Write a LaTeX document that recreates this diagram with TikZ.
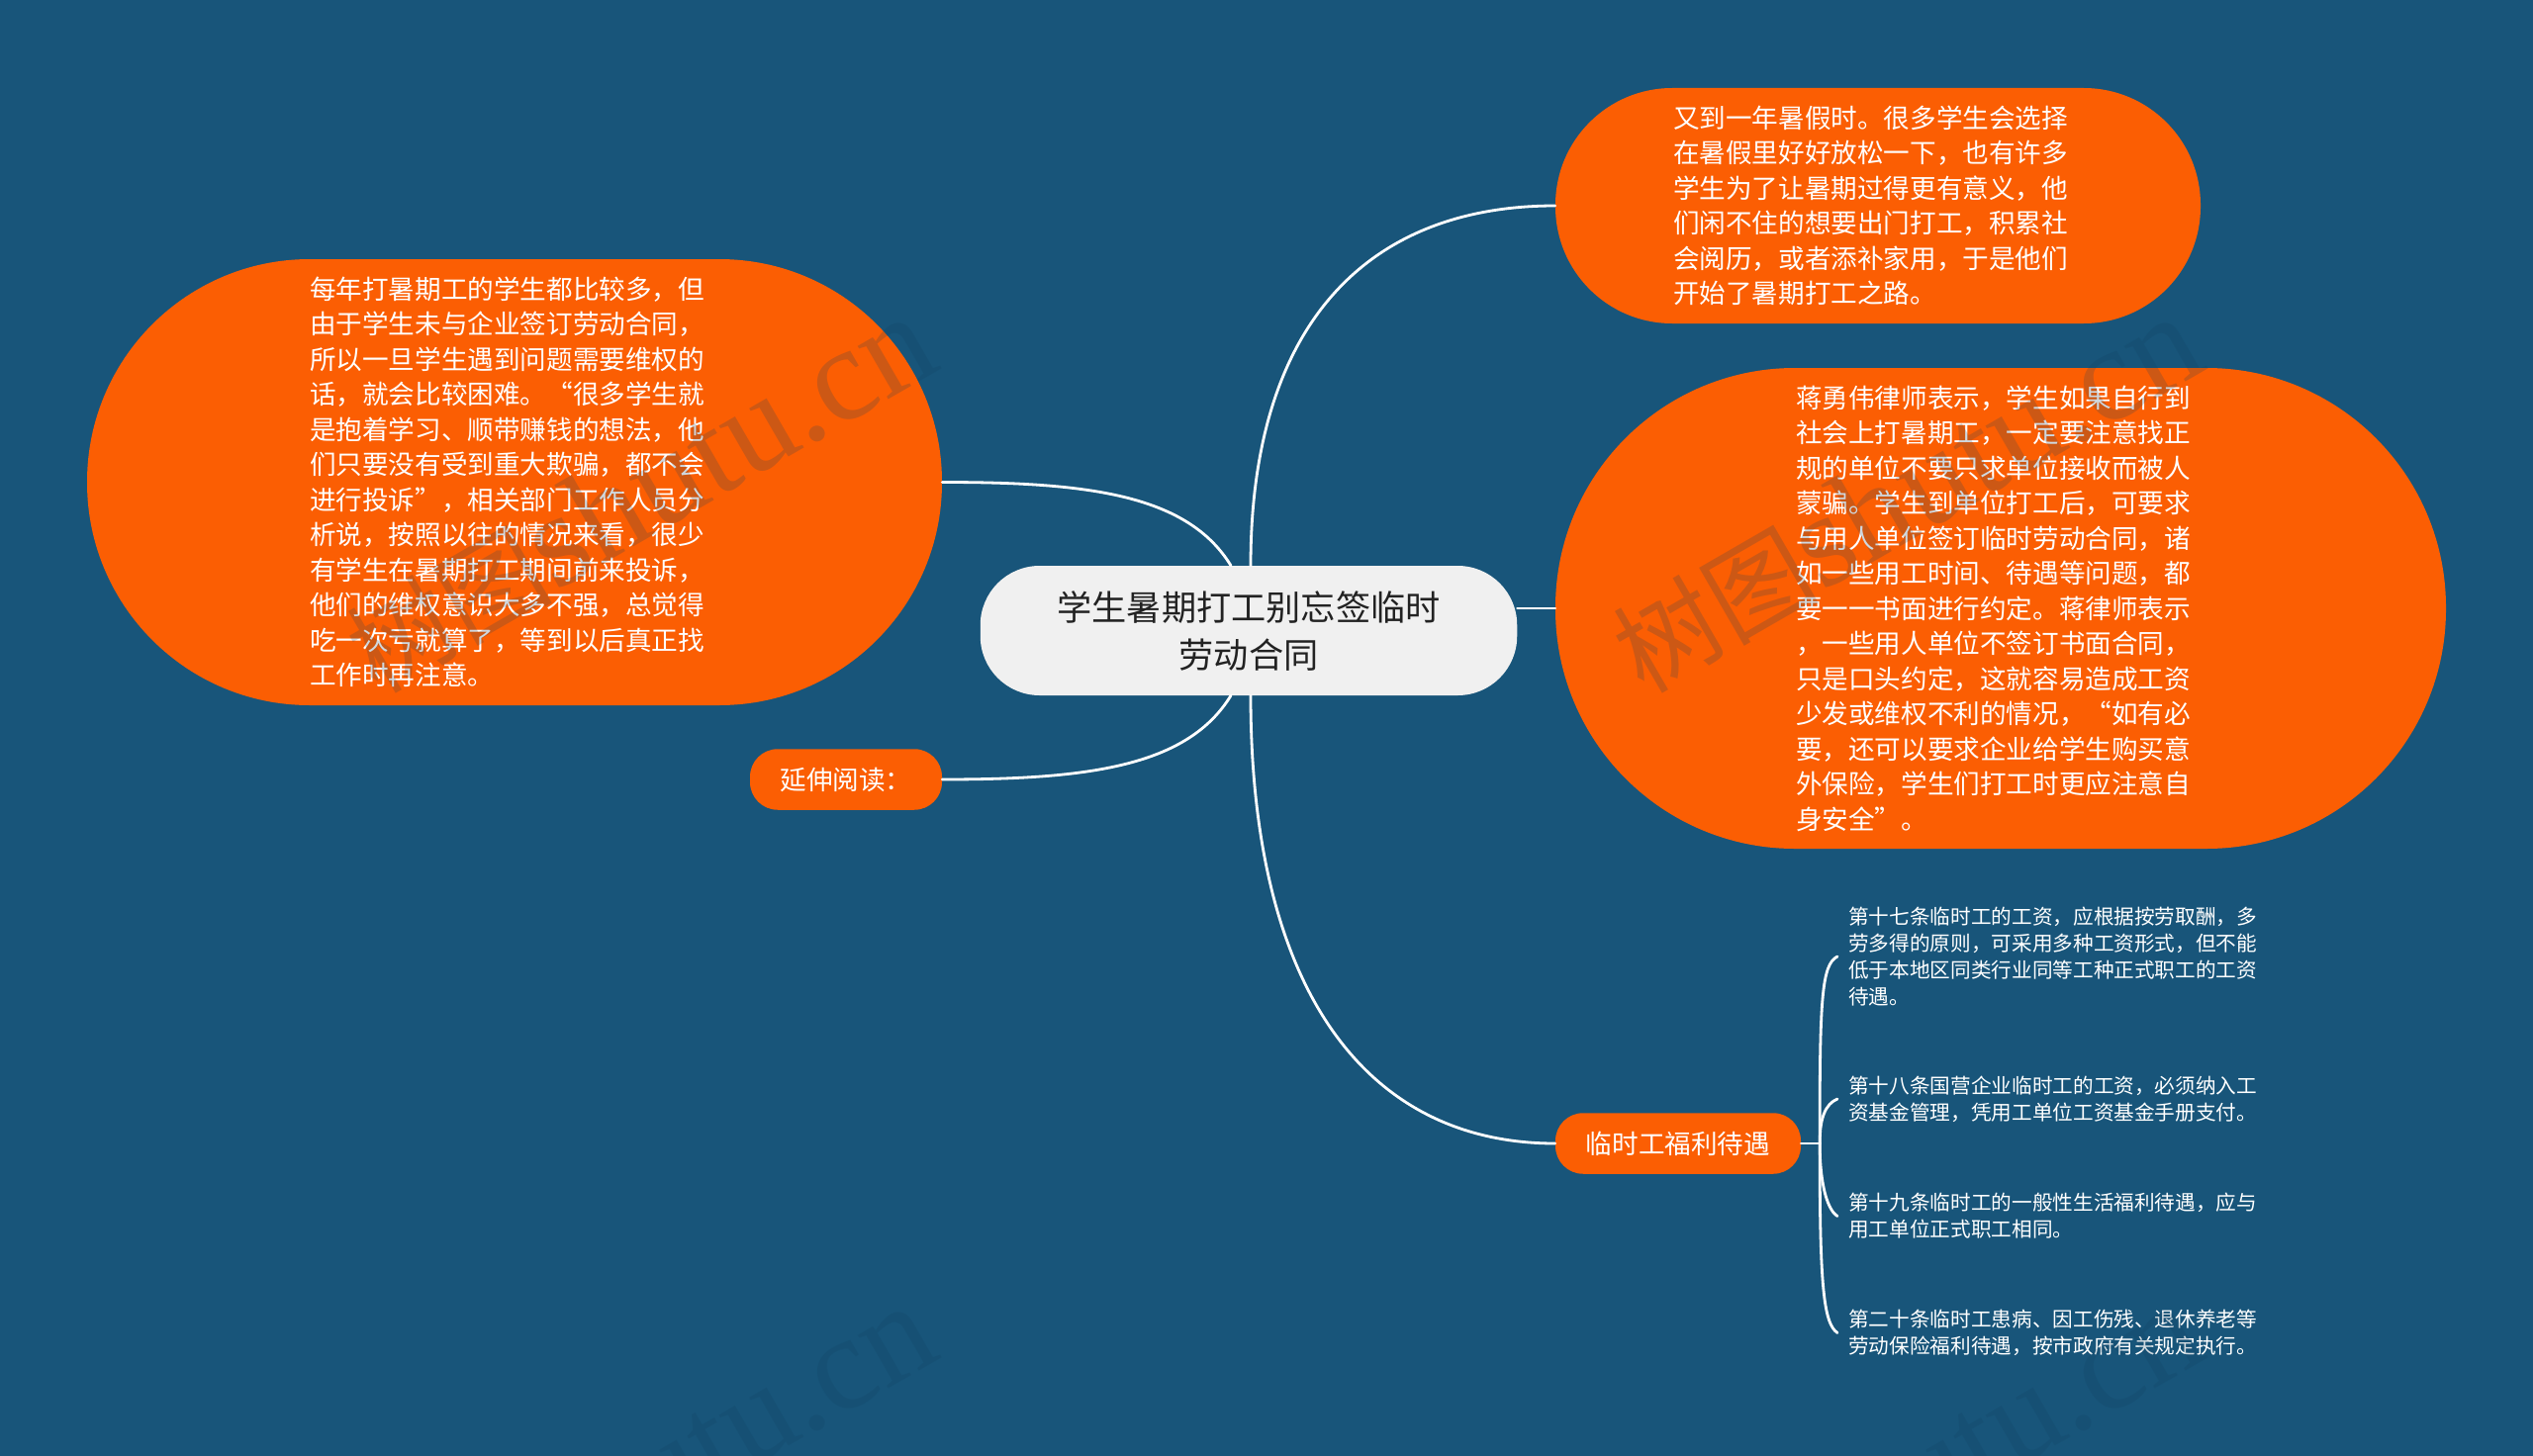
\documentclass[tikz,border=0pt]{standalone}
\usepackage{fontspec}
\setmainfont{Noto Sans CJK SC}
\newfontfamily\wmlatin{Liberation Serif}
\usetikzlibrary{calc}
\definecolor{bgblue}{HTML}{18557A}
\definecolor{bubble}{HTML}{FB5E03}
\definecolor{rootfill}{HTML}{F0F0F0}
\definecolor{roottext}{HTML}{222222}
\definecolor{markcol}{HTML}{10405F}
\newcommand{\txtlines}[2]{\kern#1pt\raisebox{-3pt}[\height][\depth]{\begin{tabular}{@{}l@{}}#2\end{tabular}}}
\newcommand{\wmtext}{{\fontsize{104}{120}\selectfont 树图}{\wmlatin\fontsize{135}{140}\selectfont shutu.cn}}
\tikzset{
  x=1pt,y=-1pt,
  bubblebox/.style={fill=bubble,draw=none,inner sep=0pt,text=white,align=center},
  bigtext/.style={font=\fontsize{26.6}{35.5}\selectfont},
  rootbox/.style={fill=rootfill,draw=none,inner sep=0pt,text=roottext,align=center,font=\fontsize{35.2}{48}\selectfont},
  leafbox/.style={inner sep=0pt,text=white,align=left,font=\fontsize{20.65}{26.8}\selectfont,inner xsep=11pt},
  link/.style={draw=white,line width=2.8pt,line cap=round},
  wmark/.style={text=markcol,opacity=.2,rotate=30,anchor=base west,inner sep=0pt}
}
\begin{document}
\begin{tikzpicture}
\fill[bgblue] (0,0) rectangle (2560,1472);
\useasboundingbox (0,0) rectangle (2560,1472);

\node[rootbox,rounded corners=60pt,minimum width=542.5pt,minimum height=131pt] (root) at (1262,637.5) {学生暑期打工别忘签临时\\劳动合同};

\node[bubblebox,bigtext,rounded corners=225pt,minimum width=864pt,minimum height=451pt] (left) at (520,487.5) {\txtlines{-15}{每年打暑期工的学生都比较多，但\\由于学生未与企业签订劳动合同，\\所以一旦学生遇到问题需要维权的\\话，就会比较困难。“很多学生就\\是抱着学习、顺带赚钱的想法，他\\们只要没有受到重大欺骗，都不会\\进行投诉”，相关部门工作人员分\\析说，按照以往的情况来看，很少\\有学生在暑期打工期间前来投诉，\\他们的维权意识大多不强，总觉得\\吃一次亏就算了，等到以后真正找\\工作时再注意。}};

\node[bubblebox,bigtext,rounded corners=28pt,minimum width=194pt,minimum height=61.5pt] (read) at (855,788) {延伸阅读：};

\node[bubblebox,bigtext,rounded corners=118pt,minimum width=652pt,minimum height=238pt] (top) at (1898,208) {\txtlines{-15}{又到一年暑假时。很多学生会选择\\在暑假里好好放松一下，也有许多\\学生为了让暑期过得更有意义，他\\们闲不住的想要出门打工，积累社\\会阅历，或者添补家用，于是他们\\开始了暑期打工之路。}};

\node[bubblebox,bigtext,rounded corners=242pt,minimum width=900pt,minimum height=486pt] (mid) at (2022,615) {\txtlines{-15}{蒋勇伟律师表示，学生如果自行到\\社会上打暑期工，一定要注意找正\\规的单位不要只求单位接收而被人\\蒙骗。学生到单位打工后，可要求\\与用人单位签订临时劳动合同，诸\\如一些用工时间、待遇等问题，都\\要一一书面进行约定。蒋律师表示\\，一些用人单位不签订书面合同，\\只是口头约定，这就容易造成工资\\少发或维权不利的情况，“如有必\\要，还可以要求企业给学生购买意\\外保险，学生们打工时更应注意自\\身安全”。}};

\node[bubblebox,bigtext,rounded corners=28pt,minimum width=248pt,minimum height=61.5pt] (care) at (1696,1156) {临时工福利待遇};

\node[leafbox,anchor=west] (la) at (1857,967) {第十七条临时工的工资，应根据按劳取酬，多\\劳多得的原则，可采用多种工资形式，但不能\\低于本地区同类行业同等工种正式职工的工资\\待遇。};
\node[leafbox,anchor=west] (lb) at (1857,1111) {第十八条国营企业临时工的工资，必须纳入工\\资基金管理，凭用工单位工资基金手册支付。};
\node[leafbox,anchor=west] (lc) at (1857,1229.5) {第十九条临时工的一般性生活福利待遇，应与\\用工单位正式职工相同。};
\node[leafbox,anchor=west] (ld) at (1857,1347.5) {第二十条临时工患病、因工伤残、退休养老等\\劳动保险福利待遇，按市政府有关规定执行。};

\coordinate (rtl) at ([xshift=-18pt]root.north);
\coordinate (rbl) at ([xshift=-18pt]root.south);
\coordinate (rtr) at ([xshift=2pt]root.north);
\coordinate (rbr) at ([xshift=2pt]root.south);
\coordinate (spine) at ([xshift=19pt]care.east);

\draw[link] (rtl) .. controls (1200,500) and (1100,487.5) .. (left.east);
\draw[link] (rbl) .. controls (1200,775) and (1100,788) .. (read.east);
\draw[link] (rtr) .. controls (1264,330) and (1380,208) .. (top.west);
\draw[link] (rbr) .. controls (1264,1000) and (1380,1156) .. (care.west);
\draw[link] (root.east |- mid.west) -- (mid.west);
\draw[link] (care.east) -- (spine);
\draw[link] (spine) .. controls (1839,1010) and (1841,975) .. (la.west);
\draw[link] (spine) .. controls (1839,1130) and (1845,1116) .. (lb.west);
\draw[link] (spine) .. controls (1839,1190) and (1845,1222) .. (lc.west);
\draw[link] (spine) .. controls (1839,1300) and (1843,1338) .. (ld.west);

\node[wmark] (w1) at (381,702.5) {\wmtext};
\node[wmark] (w2) at (1661,702.5) {\wmtext};
\node[wmark] (w3) at (381,1702.5) {\wmtext};
\node[wmark] (w4) at (1661,1702.5) {\wmtext};
\end{tikzpicture}
\end{document}
